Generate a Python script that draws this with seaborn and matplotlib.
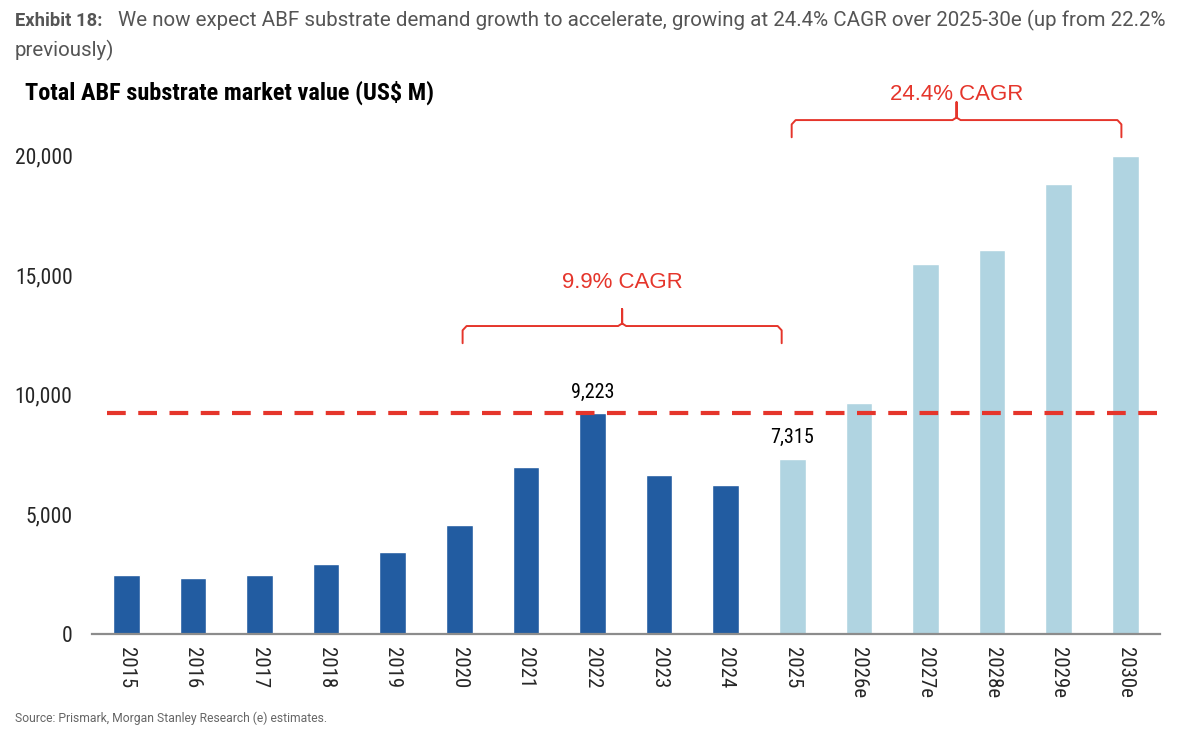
import matplotlib
matplotlib.use("Agg")
import matplotlib.pyplot as plt
import seaborn as sns
import pandas as pd

# data (US$ M)
years = ["2015", "2016", "2017", "2018", "2019", "2020", "2021", "2022",
         "2023", "2024", "2025", "2026e", "2027e", "2028e", "2029e", "2030e"]
values = [2430, 2330, 2460, 2890, 3400, 4540, 6950, 9223,
          6620, 6200, 7315, 9640, 15460, 16050, 18810, 20000]
period = ["actual"] * 10 + ["forecast"] * 6
labelled = {"2022": "9,223", "2025": "7,315"}
y_ticks = [0, 5000, 10000, 15000, 20000]
peak_value = 9223

DARK_BLUE = "#225CA1"
LIGHT_BLUE = "#B0D4E1"
RED = "#E5352B"

df = pd.DataFrame({"year": years, "value": values, "period": period})

sns.set_style("white")
cond = ["Roboto Condensed", "Liberation Sans Narrow", "Roboto", "DejaVu Sans"]
plt.rcParams["font.family"] = ["Roboto", "DejaVu Sans"]

fig = plt.figure(figsize=(12, 7.46), dpi=100)
ax = fig.add_axes([0.0767, 0.1508, 0.89, 0.735])

sns.barplot(data=df, x="year", y="value", hue="period",
            palette={"actual": DARK_BLUE, "forecast": LIGHT_BLUE},
            width=0.40, dodge=False, legend=False, ax=ax, saturation=1)

ax.set_xlim(-0.513, 15.52)
ax.set_ylim(0, 22950)
ax.set_yticks(y_ticks)
ax.set_yticklabels([f"{v:,}" for v in y_ticks], fontsize=15.5, family=cond)
ax.set_xticks(range(len(years)))
ax.set_xticklabels(years, rotation=-90, fontsize=15, family=cond)
ax.tick_params(axis="y", length=0, pad=14)
ax.tick_params(axis="x", length=0, pad=10)
ax.set_xlabel("")
ax.set_ylabel("")

for side in ["top", "right", "left"]:
    ax.spines[side].set_visible(False)
ax.spines["bottom"].set_color("#8C8C8C")
ax.spines["bottom"].set_linewidth(1.6)

# dashed reference line at the 2022 peak
ax.hlines(peak_value, -0.29, 15.52, colors=RED, linewidth=3,
          linestyles=(0, (4.5, 3)), zorder=3)

# value labels
for i, yr in enumerate(years):
    if yr in labelled:
        ax.text(i, values[i] + 480, labelled[yr], ha="center", va="bottom",
                fontsize=14.5, family=cond, color="black")


def brace(x0, x1, y_end, y_line, y_tip, text, y_text):
    xm = (x0 + x1) / 2
    d = 0.06
    dy = (y_line - y_end) * 0.25
    xs = [x0, x0, x0 + d, xm - d, xm, xm, xm, xm + d, x1 - d, x1, x1]
    ys = [y_end, y_line - dy, y_line, y_line, y_line + dy * 0.6, y_tip,
          y_line + dy * 0.6, y_line, y_line, y_line - dy, y_end]
    ax.plot(xs, ys, color=RED, linewidth=1.4, clip_on=False,
            solid_joinstyle="round")
    ax.text(xm, y_text, text, ha="center", va="center", color=RED,
            fontsize=16, family=["Liberation Sans", "DejaVu Sans"])


brace(5.05, 9.84, 12150, 12870, 13580, "9.9% CAGR", 14710)
brace(9.99, 14.94, 20770, 21490, 22240, "24.4% CAGR", 22580)

# titles and source
fig.text(0.0125, 0.972, "Exhibit 18:", fontsize=13.2, fontweight="bold",
         color="#555555", va="center")
fig.text(0.098, 0.972,
         "We now expect ABF substrate demand growth to accelerate, growing at 24.4% CAGR over 2025-30e (up from 22.2%",
         fontsize=14.75, color="#555555", va="center")
fig.text(0.0125, 0.932, "previously)", fontsize=14.75, color="#555555",
         va="center")
fig.text(0.021, 0.875, "Total ABF substrate market value (US$ M)",
         fontsize=17.5, fontweight="bold", color="black", va="center",
         family=cond)
fig.text(0.0125, 0.037,
         "Source: Prismark, Morgan Stanley Research (e) estimates.",
         fontsize=8.7, color="#666666", va="center")

fig.savefig("out.png", dpi=100)
